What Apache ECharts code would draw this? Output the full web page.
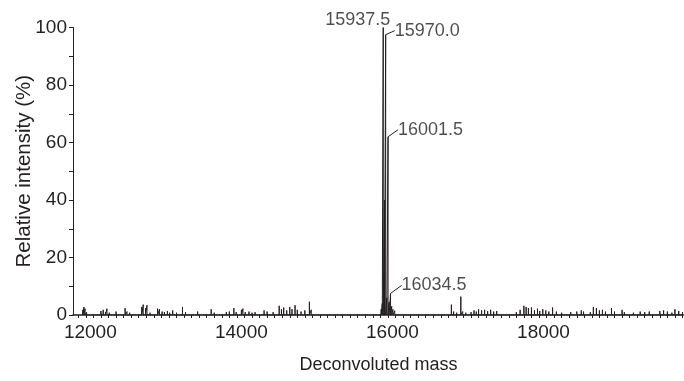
<!DOCTYPE html>
<html>
<head>
<meta charset="utf-8">
<style>
  html, body { margin: 0; padding: 0; background: #fff; }
  #chart { width: 684px; height: 381px; }
</style>
<script src="https://cdn.jsdelivr.net/npm/echarts@6/dist/echarts.min.js"></script>
</head>
<body>
<div id="chart"></div>
<script>
// spectrum sticks: mass (Da) and relative intensity (%)
const masses = [
  11960, 11975, 11990, 12010, 12060, 12130, 12200, 12230, 12260, 12280, 12310, 12400,
  12520, 12545, 12580, 12640, 12740, 12760, 12790, 12810, 12850, 12950, 12975, 13010,
  13040, 13080, 13110, 13150, 13200, 13280, 13320, 13400, 13480, 13530, 13660, 13700,
  13800, 13860, 13900, 13960, 13990, 14060, 14080, 14110, 14160, 14200, 14240, 14300,
  14360, 14400, 14480, 14560, 14590, 14620, 14660, 14700, 14730, 14770, 14800, 14850,
  14900, 14960, 14985, 15050, 15200, 15400, 15700, 15850,
  15910, 15925, 15937.5, 15954, 15970.0, 15985, 16001.5, 16015, 16034.5, 16050, 16066, 16090, 16120,
  16300, 16600, 16840, 16870, 16910, 16965, 16990, 17030, 17100, 17140, 17170, 17200,
  17240, 17280, 17320, 17360, 17400, 17440, 17500, 17600, 17700, 17750, 17800, 17830,
  17860, 17900, 17940, 17980, 18010, 18050, 18090, 18130, 18180, 18230, 18300, 18360,
  18420, 18500, 18560, 18590, 18680, 18720, 18760, 18800, 18840, 18880, 18960, 19000,
  19100, 19130, 19250, 19340, 19400, 19460, 19530, 19600, 19650, 19700, 19760, 19800,
  19850, 19900
]
const intensities = [
  1.8, 2.8, 2.2, 1.0, 0.5, 0.6, 1.4, 1.8, 1.0, 2.2, 0.8, 1.2,
  2.4, 1.2, 0.8, 0.6, 2.8, 3.6, 2.4, 3.4, 0.8, 2.2, 2.0, 1.2,
  1.0, 1.4, 0.8, 1.6, 0.8, 2.8, 1.0, 0.6, 1.2, 0.6, 2.0, 0.8,
  0.6, 1.0, 1.2, 2.4, 1.0, 1.8, 2.2, 1.0, 1.2, 0.8, 1.0, 0.6,
  1.6, 1.2, 1.0, 3.2, 2.0, 2.6, 1.6, 2.8, 2.0, 3.4, 1.8, 1.2,
  1.6, 4.6, 1.8, 0.5, 0.4, 0.3, 0.3, 0.5,
  2.0, 4.0, 100, 40, 97.5, 6.0, 62, 4.5, 7.5, 3.0, 2.0, 1.5, 0.6,
  0.3, 0.3, 3.6, 1.2, 0.8, 6.4, 1.2, 0.8, 1.0, 1.6, 1.2, 2.0,
  1.6, 1.8, 1.4, 1.8, 1.2, 1.4, 0.6, 0.6, 1.0, 1.8, 3.2, 2.8,
  2.4, 2.6, 1.6, 2.2, 1.4, 2.0, 1.6, 1.2, 2.6, 1.2, 0.8, 0.6,
  1.0, 1.2, 1.6, 1.2, 1.0, 2.8, 2.4, 1.6, 1.8, 1.2, 2.4, 1.2,
  1.8, 1.0, 0.8, 1.2, 1.0, 1.2, 0.6, 1.4, 1.6, 1.2, 0.8, 2.0,
  1.4, 1.0
]

// annotated peaks
const labelMasses = [15937.5, 15970.0, 16001.5, 16034.5]
const labelTexts = ['15937.5', '15970.0', '16001.5', '16034.5']

// axis ticks
const xTicks = [12000, 14000, 16000, 18000]
const yTicks = [0, 20, 40, 60, 80, 100]

const ink = '#231f20'
const font = 'Liberation Sans, Arial, sans-serif'

// label offsets (px) from the peak top; first label sits above, no leader
const labelOffsets = [
  { pos: 'top', dx: 7, dy: -7, line: false },
  { pos: 'right', dx: 9, dy: -4, line: true },
  { pos: 'right', dx: 10, dy: -7, line: true },
  { pos: 'right', dx: 11, dy: -8, line: true },
]

// sticks: each peak goes baseline -> top -> baseline
const stickData = []
masses.forEach((m, i) => {
  stickData.push([m, 0], [m, intensities[i]], [m, 0])
})

const labelData = labelMasses.map((m, i) => {
  const h = intensities[masses.indexOf(m)]
  const o = labelOffsets[i]
  return {
    value: [m, h],
    label: { position: o.pos, align: o.pos === 'top' ? 'right' : 'left', distance: 0 },
    labelLine: { show: o.line },
  }
})

// minor ticks on x every 100 Da
const xMinor = []
for (let v = 11900; v <= 19900; v += 100) xMinor.push(v)

const chart = echarts.init(document.getElementById('chart'))

chart.setOption({
  animation: false,
  textStyle: { fontFamily: font },
  grid: { left: 73, right: 0, top: 27.5, bottom: 66, outerBoundsMode: 'none' },
  xAxis: {
    type: 'value',
    min: 11830,
    max: 19920,
    name: 'Deconvoluted mass',
    nameLocation: 'middle',
    nameGap: 41,
    nameTextStyle: { color: ink, fontSize: 18, fontFamily: font },
    axisLine: { lineStyle: { color: ink, width: 1.6 } },
    axisTick: { customValues: xMinor, length: 3, lineStyle: { color: ink } },
    axisLabel: { customValues: xTicks, color: ink, fontSize: 19, margin: 8, fontFamily: font,
      padding: [0, 0, 0, 9], formatter: (v) => String(v) },
    splitLine: { show: false },
  },
  yAxis: {
    type: 'value',
    min: 0,
    max: 100,
    interval: 20,
    name: 'Relative intensity (%)',
    nameLocation: 'middle',
    nameGap: 38,
    nameMoveOverlap: false,
    nameTextStyle: { color: ink, fontSize: 20.5, fontFamily: font },
    axisLine: { show: true, lineStyle: { color: ink, width: 1 } },
    axisTick: { show: true, length: 4, lineStyle: { color: ink } },
    minorTick: { show: true, splitNumber: 2, length: 4, lineStyle: { color: ink } },
    axisLabel: { color: ink, fontSize: 19, margin: 6, fontFamily: font,
      formatter: (v) => (yTicks.includes(v) ? String(v) : '') },
    splitLine: { show: false },
  },
  series: [
    {
      name: 'spectrum',
      type: 'line',
      data: stickData,
      symbol: 'none',
      lineStyle: { color: ink, width: 1 },
      sampling: false,
      z: 3,
    },
    {
      name: 'peak labels',
      type: 'scatter',
      data: labelData,
      symbolSize: 0,
      itemStyle: { color: ink },
      label: {
        show: true,
        formatter: (p) => labelTexts[p.dataIndex],
        color: ink,
        fontSize: 18,
        fontFamily: font,
        verticalAlign: 'middle',
      },
      labelLine: { show: true, lineStyle: { color: ink, width: 1 } },
      labelLayout: (p) => ({
        dx: labelOffsets[p.dataIndex].dx,
        dy: labelOffsets[p.dataIndex].dy,
      }),
      z: 4,
    },
  ],
})

window.addEventListener('resize', () => chart.resize())
</script>
</body>
</html>
